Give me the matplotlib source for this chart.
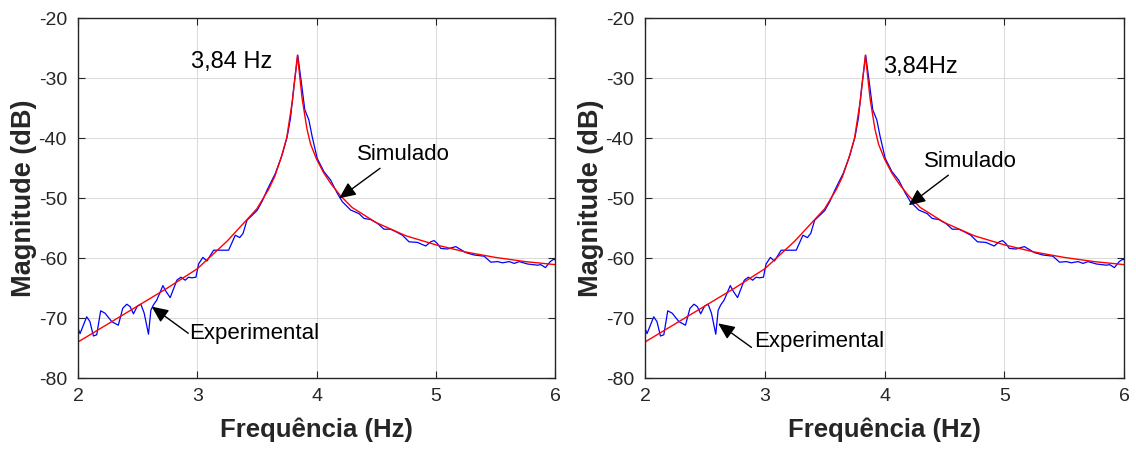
import matplotlib
matplotlib.use('Agg')
import matplotlib.pyplot as plt

plt.rcParams['font.family'] = ['Liberation Sans', 'DejaVu Sans']
plt.rcParams['axes.unicode_minus'] = False

# Resposta experimental
freq_exp = [2.000, 2.017, 2.073, 2.100, 2.129, 2.157, 2.190, 2.227, 2.283, 2.338,
            2.375, 2.409, 2.437, 2.465, 2.498, 2.527, 2.555, 2.591, 2.611, 2.633,
            2.661, 2.712, 2.739, 2.773, 2.829, 2.863, 2.899, 2.927, 2.955, 2.989,
            3.011, 3.047, 3.081, 3.137, 3.193, 3.263, 3.319, 3.356, 3.384, 3.417,
            3.501, 3.543, 3.585, 3.600, 3.655, 3.712, 3.754, 3.782, 3.810, 3.843,
            3.874, 3.902, 3.936, 3.964, 4.006, 4.062, 4.118, 4.146, 4.174, 4.216,
            4.286, 4.356, 4.398, 4.454, 4.510, 4.566, 4.622, 4.664, 4.720, 4.776,
            4.846, 4.916, 4.958, 4.986, 5.014, 5.042, 5.098, 5.168, 5.210, 5.252,
            5.322, 5.406, 5.462, 5.518, 5.560, 5.616, 5.658, 5.700, 5.770, 5.854,
            5.880, 5.920, 5.960, 5.990, 6.000]
mag_exp = [-71.7, -72.6, -69.8, -70.6, -73.0, -72.8, -68.8, -69.2, -70.6, -71.2,
           -68.4, -67.7, -68.1, -69.3, -68.0, -67.7, -69.2, -72.7, -68.7, -67.8,
           -67.0, -64.6, -65.6, -66.6, -63.7, -63.2, -63.7, -63.2, -63.3, -63.2,
           -61.0, -59.9, -60.5, -58.7, -58.7, -58.7, -56.2, -56.6, -55.9, -53.7,
           -52.1, -50.6, -48.7, -48.1, -45.9, -42.8, -39.8, -36.7, -31.4, -26.2,
           -30.9, -35.3, -37.0, -39.8, -43.4, -45.6, -47.0, -48.1, -49.2, -50.6,
           -52.0, -52.6, -53.4, -53.6, -54.2, -55.2, -55.2, -55.6, -56.2, -57.3,
           -57.4, -58.0, -57.3, -57.1, -57.6, -58.4, -58.5, -58.1, -58.6, -59.1,
           -59.5, -59.7, -60.7, -60.6, -60.8, -60.6, -60.9, -60.6, -61.0, -61.2,
           -61.1, -61.6, -60.6, -60.2, -60.3]

# Resposta simulada
freq_sim = [2.0, 2.25, 2.5, 2.75, 3.0, 3.25, 3.5, 3.6, 3.65, 3.7, 3.75, 3.8, 3.84,
            3.88, 3.92, 3.95, 4.0, 4.06, 4.12, 4.2, 4.3, 4.5, 4.75, 5.0, 5.25,
            5.5, 5.75, 6.0]
mag_sim = [-74.0, -71.0, -68.0, -65.0, -61.8, -57.2, -51.8, -48.5, -46.4, -43.5,
           -40.0, -33.5, -26.2, -33.5, -38.5, -41.0, -43.5, -45.8, -47.6, -49.6,
           -51.6, -54.1, -56.3, -57.8, -59.0, -59.9, -60.6, -61.1]

x_ticks = [2, 3, 4, 5, 6]
y_ticks = [-80, -70, -60, -50, -40, -30, -20]

# textos de cada grafico
panels = [
    dict(peak='3,84 Hz', peak_xy=(3.29, -27.3),
         sim_xy=(4.725, -42.8), sim_tail=(4.533, -45.05), sim_tip=(4.19, -50.05),
         exp_xy=(2.93, -72.5), exp_tail=(2.925, -72.55), exp_tip=(2.618, -68.1)),
    dict(peak='3,84Hz', peak_xy=(4.3, -28.2),
         sim_xy=(4.72, -43.95), sim_tail=(4.533, -46.2), sim_tip=(4.2025, -51.2),
         exp_xy=(2.915, -73.95), exp_tail=(2.889, -74.9), exp_tip=(2.611, -70.9)),
]

fig = plt.figure(figsize=(11.36, 4.49), dpi=100)
ax1 = fig.add_axes([78 / 1136, 1 - 378 / 449, 477 / 1136, 360 / 449])
ax2 = fig.add_axes([645 / 1136, 1 - 378 / 449, 479 / 1136, 360 / 449])

arrow = dict(arrowstyle='-|>,head_length=1.0,head_width=0.45', color='black', lw=1.0,
             shrinkA=0, shrinkB=0)

for ax, p in zip([ax1, ax2], panels):
    ax.plot(freq_exp, mag_exp, color='blue', lw=0.9)
    ax.plot(freq_sim, mag_sim, color='red', lw=1.0)
    ax.set_xlim(2, 6)
    ax.set_ylim(-80, -20)
    ax.set_xticks(x_ticks)
    ax.set_yticks(y_ticks)
    ax.grid(True, color='#dcdcdc', lw=0.8)
    ax.set_axisbelow(True)
    ax.tick_params(direction='in', top=True, right=True, labelsize=14,
                   colors='#262626', length=5)
    ax.tick_params(axis='x', pad=7)
    ax.tick_params(axis='y', pad=8)
    for s in ax.spines.values():
        s.set_color('#262626')
        s.set_linewidth(1.0)
    ax.set_xlabel('Frequência (Hz)', fontsize=18.5, fontweight='bold', color='#262626',
                  labelpad=9)
    ax.set_ylabel('Magnitude (dB)', fontsize=19.5, fontweight='bold', color='#262626',
                  labelpad=1)

    ax.text(*p['peak_xy'], p['peak'], fontsize=17, ha='center', va='center')
    ax.text(*p['sim_xy'], 'Simulado', fontsize=16, ha='center', va='center')
    ax.annotate('', xy=p['sim_tip'], xytext=p['sim_tail'], arrowprops=arrow)
    ax.text(*p['exp_xy'], 'Experimental', fontsize=16, ha='left', va='center')
    ax.annotate('', xy=p['exp_tip'], xytext=p['exp_tail'], arrowprops=arrow)

fig.savefig('out.png', dpi=100)
